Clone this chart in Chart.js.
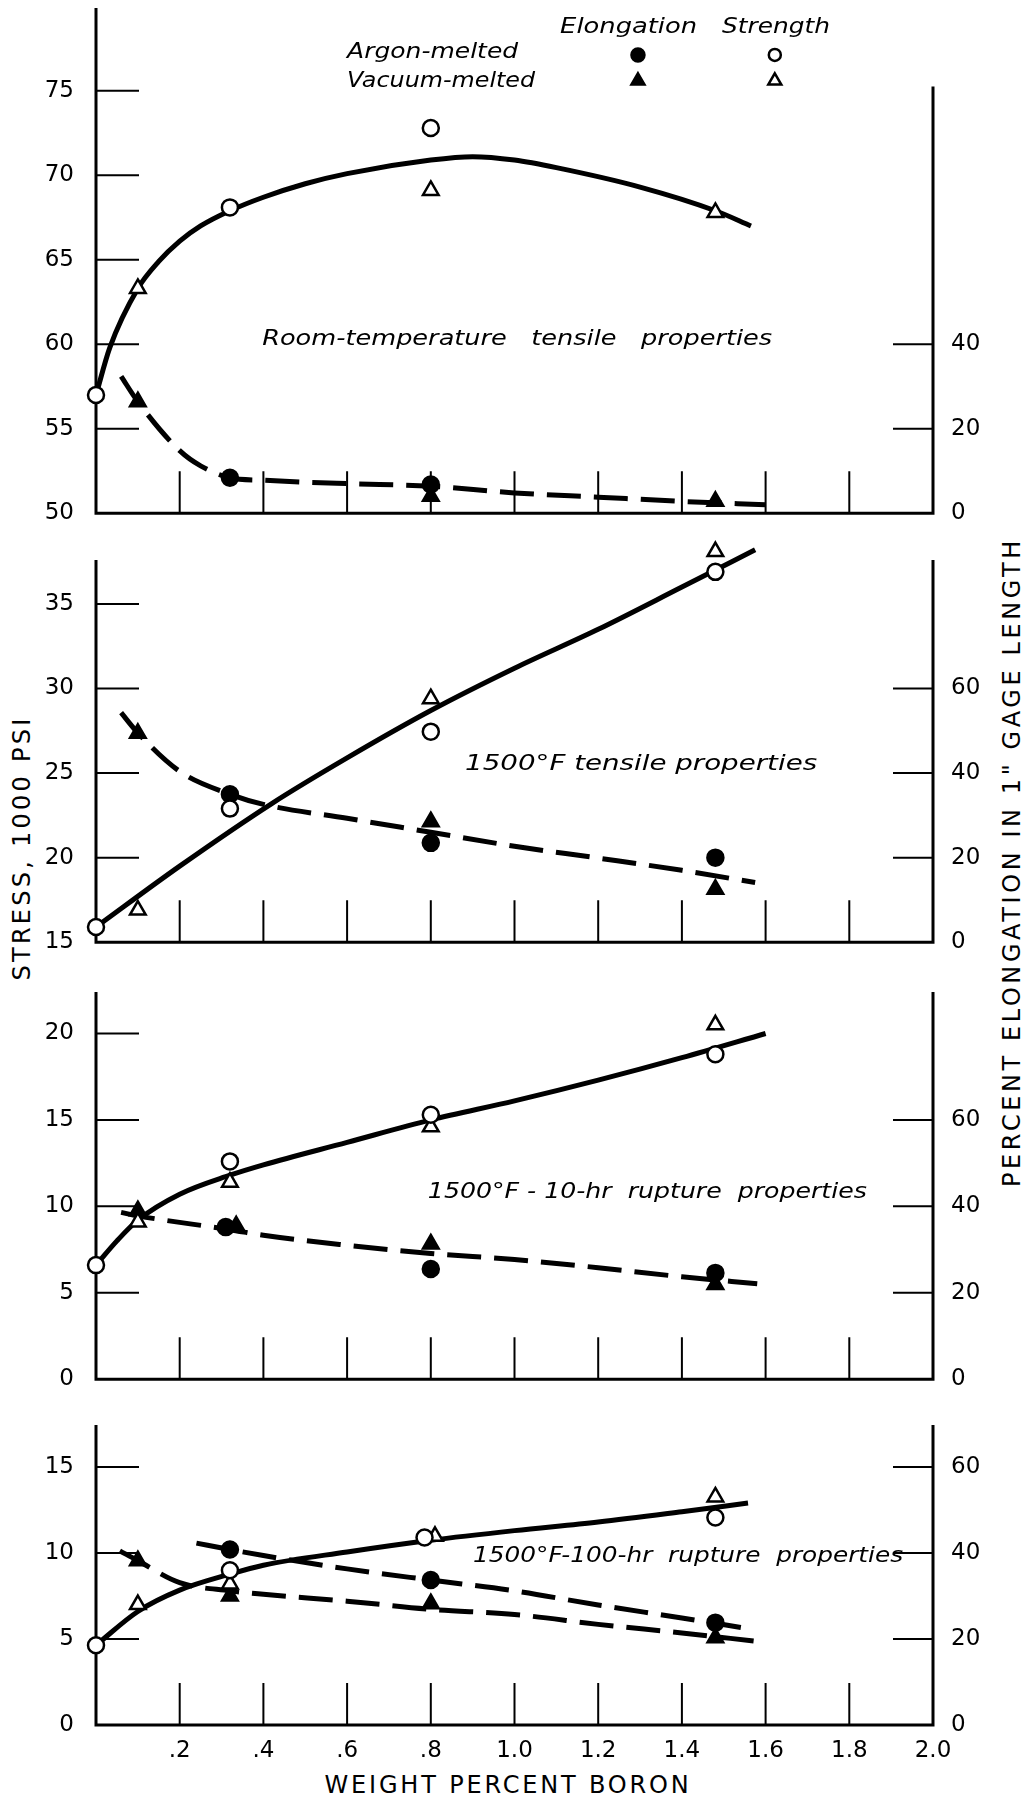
<!DOCTYPE html>
<html>
<head>
<meta charset="utf-8">
<script src="https://cdn.jsdelivr.net/npm/chart.js@4.4.0/dist/chart.umd.min.js"></script>
<style>
  html, body { margin: 0; padding: 0; background: #fff; }
  #pagina { position: relative; width: 1030px; height: 1802px; overflow: hidden; background: #fff; }
  #pagina canvas { position: absolute; left: 0; }
  .titulo { position: absolute; font-family: 'DejaVu Sans', sans-serif; font-size: 24px; color: #000;
            white-space: nowrap; transform: translate(-50%, -50%); }
  .vertical { transform: translate(-50%, -50%) rotate(-90deg); }
</style>
</head>
<body>
<div id="pagina">
  <div class="titulo vertical" id="tituloEsq" style="left:22px; top:848px">STRESS, 1000 PSI</div>
  <div class="titulo vertical" id="tituloDir" style="left:1012px; top:862px">PERCENT ELONGATION IN 1" GAGE LENGTH</div>
  <div class="titulo" id="tituloX" style="left:508px; top:1785px">WEIGHT PERCENT BORON</div>
</div>
<script>
// Eixo X (% de boro), comum aos quatro painéis
const xTicks = [0.2, 0.4, 0.6, 0.8, 1.0, 1.2, 1.4, 1.6, 1.8, 2.0];
const xTickLabels = ['.2', '.4', '.6', '.8', '1.0', '1.2', '1.4', '1.6', '1.8', '2.0'];

// Painel 1 - propriedades de tração à temperatura ambiente
const p1EsqTicks = [50, 55, 60, 65, 70, 75];
const p1DirTicks = [0, 20, 40];
const p1ResArgonX = [0, 0.32, 0.8];
const p1ResArgonY = [57.0, 68.1, 72.8];
const p1ResVacuoX = [0.1, 0.8, 1.48];
const p1ResVacuoY = [63.3, 69.1, 67.8];
const p1AloArgonX = [0.32, 0.8];
const p1AloArgonY = [8.4, 6.8];
const p1AloVacuoX = [0.1, 0.8, 1.48];
const p1AloVacuoY = [26.4, 4.0, 2.8];
const p1CurvaResX = [0, 0.033, 0.1, 0.15, 0.2, 0.25, 0.32, 0.4, 0.5, 0.6, 0.8, 0.9, 1.0, 1.1, 1.3, 1.48, 1.565];
const p1CurvaResY = [57.0, 59.8, 63.3, 64.9, 66.1, 67.0, 67.9, 68.7, 69.5, 70.1, 70.9, 71.1, 70.9, 70.45, 69.3, 67.9, 67.0];
const p1CurvaAloX = [0.06, 0.1, 0.2, 0.25, 0.32, 0.4, 0.6, 0.8, 1.0, 1.2, 1.4, 1.6];
const p1CurvaAloY = [32.4, 26.4, 14.8, 11.2, 8.4, 7.8, 7.0, 6.4, 4.8, 3.8, 2.8, 2.0];

// Painel 2 - tração a 1500°F
const p2EsqTicks = [15, 20, 25, 30, 35];
const p2DirTicks = [0, 20, 40, 60];
const p2ResArgonX = [0, 0.32, 0.8, 1.48];
const p2ResArgonY = [15.9, 22.9, 27.45, 36.9];
const p2ResVacuoX = [0.1, 0.8, 1.48];
const p2ResVacuoY = [16.9, 29.4, 38.1];
const p2AloArgonX = [0.32, 0.8, 1.48];
const p2AloArgonY = [35.0, 23.5, 20.0];
const p2AloVacuoX = [0.1, 0.8, 1.48];
const p2AloVacuoY = [49.4, 28.5, 12.5];
const p2CurvaResX = [0, 0.2, 0.42, 0.6, 0.8, 1.0, 1.2, 1.4, 1.575];
const p2CurvaResY = [15.9, 19.5, 23.2, 25.9, 28.7, 31.2, 33.5, 36.0, 38.2];
const p2CurvaAloX = [0.06, 0.1, 0.2, 0.32, 0.4, 0.6, 0.8, 1.0, 1.2, 1.4, 1.575];
const p2CurvaAloY = [54.3, 49.5, 40.4, 35.0, 32.6, 29.3, 26.0, 22.7, 19.9, 17.0, 14.1];

// Painel 3 - ruptura em 10 h a 1500°F
const p3EsqTicks = [0, 5, 10, 15, 20];
const p3DirTicks = [0, 20, 40, 60];
const p3ResArgonX = [0, 0.32, 0.8, 1.48];
const p3ResArgonY = [6.6, 12.6, 15.3, 18.8];
const p3ResVacuoX = [0.1, 0.32, 0.8, 1.48];
const p3ResVacuoY = [9.1, 11.4, 14.6, 20.5];
const p3AloArgonX = [0.31, 0.8, 1.48];
const p3AloArgonY = [35.2, 25.5, 24.6];
const p3AloVacuoX = [0.1, 0.335, 0.8, 1.48];
const p3AloVacuoY = [39.0, 35.5, 31.3, 21.9];
const p3CurvaResX = [0, 0.05, 0.1, 0.2, 0.32, 0.4, 0.6, 0.8, 1.0, 1.2, 1.4, 1.6];
const p3CurvaResY = [6.6, 8.0, 9.2, 10.7, 11.8, 12.4, 13.7, 15.0, 16.1, 17.3, 18.6, 20.0];
const p3CurvaAloX = [0.06, 0.1, 0.32, 0.4, 0.6, 0.8, 1.0, 1.2, 1.4, 1.58];
const p3CurvaAloY = [38.6, 37.8, 34.6, 33.3, 31.0, 29.1, 27.7, 25.8, 23.7, 22.1];

// Painel 4 - ruptura em 100 h a 1500°F
const p4EsqTicks = [0, 5, 10, 15];
const p4DirTicks = [0, 20, 40, 60];
const p4ResArgonX = [0, 0.32, 0.785, 1.48];
const p4ResArgonY = [4.64, 9.0, 10.9, 12.06];
const p4ResVacuoX = [0.1, 0.32, 0.81, 1.48];
const p4ResVacuoY = [7.0, 8.2, 10.97, 13.26];
const p4AloArgonX = [0.32, 0.8, 1.48];
const p4AloArgonY = [40.8, 33.7, 23.8];
const p4AloVacuoX = [0.1, 0.32, 0.8, 1.48];
const p4AloVacuoY = [38.2, 30.0, 28.2, 20.3];
const p4CurvaResX = [0, 0.1, 0.2, 0.32, 0.4, 0.6, 0.8, 1.0, 1.2, 1.4, 1.558];
const p4CurvaResY = [4.64, 6.6, 7.84, 8.77, 9.29, 10.06, 10.74, 11.3, 11.8, 12.4, 12.9];
const p4CurvaAloArgonX = [0.24, 0.32, 0.4, 0.6, 0.8, 1.0, 1.2, 1.4, 1.558];
const p4CurvaAloArgonY = [42.3, 40.8, 39.4, 36.3, 33.7, 31.2, 27.9, 24.9, 22.4];
const p4CurvaAloVacuoX = [0.057, 0.1, 0.2, 0.32, 0.4, 0.6, 0.8, 1.0, 1.2, 1.4, 1.575];
const p4CurvaAloVacuoY = [40.5, 38.2, 33.1, 31.2, 30.4, 28.8, 26.9, 25.7, 23.4, 21.4, 19.5];

const FONTE = "'DejaVu Sans', sans-serif";
const ESQ = 96, DIR = 933, MARGEM_TOPO = 30;

function pares(xs, ys) {
  return xs.map((x, i) => ({ x: x, y: ys[i] }));
}

// Marcadores (abertos = resistência, cheios = alongamento)
function pontos(xs, ys, estilo, cor, eixo) {
  return {
    data: pares(xs, ys), yAxisID: eixo, showLine: false, clip: false,
    pointStyle: estilo, pointRadius: estilo === 'triangle' ? 9 : 8,
    pointBackgroundColor: cor, pointBorderColor: '#000', pointBorderWidth: 2.5
  };
}

function curva(xs, ys, tracejado, eixo) {
  return {
    data: pares(xs, ys), yAxisID: eixo, showLine: true, clip: false,
    borderColor: '#000', borderWidth: 5, borderDash: tracejado, borderCapStyle: 'butt',
    pointRadius: 0, cubicInterpolationMode: 'monotone'
  };
}

// Desenha os eixos e as marcas internas
const eixosPlugin = {
  id: 'eixos',
  beforeDatasetsDraw(chart, args, opts) {
    const { ctx, chartArea: a, scales } = chart;
    ctx.save();
    ctx.strokeStyle = '#000';
    ctx.lineWidth = 3;
    ctx.beginPath();
    ctx.moveTo(a.left, a.top);
    ctx.lineTo(a.left, a.bottom);
    ctx.lineTo(a.right, a.bottom);
    ctx.lineTo(a.right, scales.y2.getPixelForValue(opts.topoDireito));
    ctx.stroke();

    ctx.lineWidth = 2;
    ctx.beginPath();
    scales.y.ticks.forEach(t => {
      if (t.value <= scales.y.min) return;
      const py = scales.y.getPixelForValue(t.value);
      ctx.moveTo(a.left, py); ctx.lineTo(a.left + 43, py);
    });
    scales.y2.ticks.forEach(t => {
      if (t.value <= 0) return;
      const py = scales.y2.getPixelForValue(t.value);
      ctx.moveTo(a.right, py); ctx.lineTo(a.right - 40, py);
    });
    scales.x.ticks.forEach(t => {
      if (t.value >= scales.x.max) return;
      const px = scales.x.getPixelForValue(t.value);
      ctx.moveTo(px, a.bottom); ctx.lineTo(px, a.bottom - 42);
    });
    ctx.stroke();
    ctx.restore();
  }
};

function marcador(ctx, tipo, x, y, r, cheio) {
  ctx.beginPath();
  if (tipo === 'circle') {
    ctx.arc(x, y, r, 0, Math.PI * 2);
  } else {
    for (let k = 0; k < 3; k++) {
      const ang = -Math.PI / 2 + k * 2 * Math.PI / 3;
      const px = x + Math.cos(ang) * r, py = y + Math.sin(ang) * r;
      k === 0 ? ctx.moveTo(px, py) : ctx.lineTo(px, py);
    }
    ctx.closePath();
  }
  ctx.fillStyle = cheio ? '#000' : '#fff';
  ctx.fill();
  ctx.lineWidth = 2.5;
  ctx.strokeStyle = '#000';
  ctx.stroke();
}

// Textos em itálico (título do painel e legenda), ancorados em coordenadas de dados
const textosPlugin = {
  id: 'textos',
  afterDatasetsDraw(chart, args, opts) {
    const { ctx, scales } = chart;
    ctx.save();
    ctx.fillStyle = '#000';
    ctx.font = 'italic 21px ' + FONTE;
    ctx.textBaseline = 'middle';
    (opts.itens || []).forEach(it => {
      const px = scales.x.getPixelForValue(it.x);
      const py = scales.y.getPixelForValue(it.y);
      const w = ctx.measureText(it.texto).width;
      ctx.save();
      ctx.translate(px, py);
      ctx.scale(it.largura / w, 1);
      ctx.fillText(it.texto, 0, 0);
      ctx.restore();
    });
    (opts.marcas || []).forEach(m => {
      marcador(ctx, m.tipo, scales.x.getPixelForValue(m.x), scales.y.getPixelForValue(m.y), m.r, m.cheio);
    });
    ctx.restore();
  }
};

function criarPainel(p) {
  const topoCanvas = p.topo - MARGEM_TOPO;
  const altura = p.base + p.rodape - topoCanvas;
  const canvas = document.createElement('canvas');
  canvas.width = 1030;
  canvas.height = altura;
  canvas.style.top = topoCanvas + 'px';
  canvas.style.width = '1030px';
  canvas.style.height = altura + 'px';
  document.getElementById('pagina').appendChild(canvas);

  const fonteTicks = { family: FONTE, size: 23 };
  return new Chart(canvas, {
    type: 'scatter',
    data: { datasets: p.datasets },
    options: {
      responsive: false,
      animation: false,
      devicePixelRatio: 1,
      layout: { padding: { top: MARGEM_TOPO, left: 0, right: 0, bottom: 0 } },
      plugins: {
        legend: { display: false },
        tooltip: { enabled: false },
        eixos: { topoDireito: p.topoDireito },
        textos: { itens: p.textos, marcas: p.marcas || [] }
      },
      scales: {
        x: {
          type: 'linear', position: 'bottom', min: 0, max: 2,
          grid: { display: false }, border: { display: false },
          afterFit: s => { s.height = p.rodape; },
          afterBuildTicks: s => { s.ticks = xTicks.map(v => ({ value: v })); },
          ticks: {
            display: p.mostrarX, padding: 4, color: '#000', font: fonteTicks,
            autoSkip: false, maxRotation: 0,
            callback: (v, i) => xTickLabels[i]
          }
        },
        y: {
          type: 'linear', position: 'left', min: p.yMin, max: p.yMax,
          grid: { display: false }, border: { display: false },
          afterFit: s => { s.width = ESQ; },
          afterBuildTicks: s => { s.ticks = p.esqTicks.map(v => ({ value: v })); },
          ticks: { padding: 14, color: '#000', font: fonteTicks }
        },
        y2: {
          type: 'linear', position: 'right', min: 0, max: (p.yMax - p.yMin) * 4,
          grid: { display: false }, border: { display: false },
          afterFit: s => { s.width = 1030 - DIR; },
          afterBuildTicks: s => { s.ticks = p.dirTicks.map(v => ({ value: v })); },
          ticks: { padding: 10, color: '#000', font: fonteTicks }
        }
      }
    },
    plugins: [eixosPlugin, textosPlugin]
  });
}

const TRACO = [34, 13];

const paineis = [
  {
    topo: 8, base: 516, rodape: 25, yMin: 50, yMax: 79.9, topoDireito: 101, mostrarX: false,
    esqTicks: p1EsqTicks, dirTicks: p1DirTicks,
    datasets: [
      pontos(p1ResArgonX, p1ResArgonY, 'circle', '#fff', 'y'),
      pontos(p1ResVacuoX, p1ResVacuoY, 'triangle', '#fff', 'y'),
      pontos(p1AloArgonX, p1AloArgonY, 'circle', '#000', 'y2'),
      pontos(p1AloVacuoX, p1AloVacuoY, 'triangle', '#000', 'y2'),
      curva(p1CurvaResX, p1CurvaResY, [], 'y'),
      curva(p1CurvaAloX, p1CurvaAloY, TRACO, 'y2')
    ],
    textos: [
      { texto: 'Argon-melted', x: 0.600, y: 77.24, largura: 171 },
      { texto: 'Vacuum-melted', x: 0.600, y: 75.53, largura: 188 },
      { texto: 'Elongation', x: 1.109, y: 78.76, largura: 137 },
      { texto: 'Strength', x: 1.496, y: 78.76, largura: 108 },
      { texto: 'Room-temperature   tensile   properties', x: 0.397, y: 60.3, largura: 510 }
    ],
    marcas: [
      { tipo: 'circle', x: 1.295, y: 77.12, r: 6.5, cheio: true },
      { tipo: 'triangle', x: 1.295, y: 75.59, r: 7.5, cheio: true },
      { tipo: 'circle', x: 1.622, y: 77.12, r: 6, cheio: false },
      { tipo: 'triangle', x: 1.622, y: 75.59, r: 7.5, cheio: false }
    ]
  },
  {
    topo: 560, base: 945, rodape: 25, yMin: 15, yMax: 37.6, topoDireito: 90.4, mostrarX: false,
    esqTicks: p2EsqTicks, dirTicks: p2DirTicks,
    datasets: [
      pontos(p2ResArgonX, p2ResArgonY, 'circle', '#fff', 'y'),
      pontos(p2ResVacuoX, p2ResVacuoY, 'triangle', '#fff', 'y'),
      pontos(p2AloArgonX, p2AloArgonY, 'circle', '#000', 'y2'),
      pontos(p2AloVacuoX, p2AloVacuoY, 'triangle', '#000', 'y2'),
      curva(p2CurvaResX, p2CurvaResY, [], 'y'),
      curva(p2CurvaAloX, p2CurvaAloY, TRACO, 'y2')
    ],
    textos: [
      { texto: '1500°F tensile properties', x: 0.882, y: 25.5, largura: 352 }
    ]
  },
  {
    topo: 992, base: 1382, rodape: 25, yMin: 0, yMax: 22.4, topoDireito: 89.6, mostrarX: false,
    esqTicks: p3EsqTicks, dirTicks: p3DirTicks,
    datasets: [
      pontos(p3ResArgonX, p3ResArgonY, 'circle', '#fff', 'y'),
      pontos(p3ResVacuoX, p3ResVacuoY, 'triangle', '#fff', 'y'),
      pontos(p3AloArgonX, p3AloArgonY, 'circle', '#000', 'y2'),
      pontos(p3AloVacuoX, p3AloVacuoY, 'triangle', '#000', 'y2'),
      curva(p3CurvaResX, p3CurvaResY, [], 'y'),
      curva(p3CurvaAloX, p3CurvaAloY, TRACO, 'y2')
    ],
    textos: [
      { texto: '1500°F - 10-hr  rupture  properties', x: 0.793, y: 10.8, largura: 439 }
    ]
  },
  {
    topo: 1425, base: 1725, rodape: 1802 - 1725, yMin: 0, yMax: 17.44, topoDireito: 69.76, mostrarX: true,
    esqTicks: p4EsqTicks, dirTicks: p4DirTicks,
    datasets: [
      pontos(p4ResArgonX, p4ResArgonY, 'circle', '#fff', 'y'),
      pontos(p4ResVacuoX, p4ResVacuoY, 'triangle', '#fff', 'y'),
      pontos(p4AloArgonX, p4AloArgonY, 'circle', '#000', 'y2'),
      pontos(p4AloVacuoX, p4AloVacuoY, 'triangle', '#000', 'y2'),
      curva(p4CurvaResX, p4CurvaResY, [], 'y'),
      curva(p4CurvaAloArgonX, p4CurvaAloArgonY, TRACO, 'y2'),
      curva(p4CurvaAloVacuoX, p4CurvaAloVacuoY, TRACO, 'y2')
    ],
    textos: [
      { texto: '1500°F-100-hr  rupture  properties', x: 0.901, y: 9.8, largura: 430 }
    ]
  }
];

paineis.forEach(criarPainel);

// Ajusta o espaçamento das letras dos títulos dos eixos ao comprimento do original
function ajustarTitulo(id, comprimento) {
  const el = document.getElementById(id);
  const ctx = document.createElement('canvas').getContext('2d');
  ctx.font = '24px ' + FONTE;
  const w = ctx.measureText(el.textContent).width;
  el.style.letterSpacing = ((comprimento - w) / el.textContent.length) + 'px';
}
ajustarTitulo('tituloEsq', 265);
ajustarTitulo('tituloDir', 650);
ajustarTitulo('tituloX', 367);
</script>
</body>
</html>
